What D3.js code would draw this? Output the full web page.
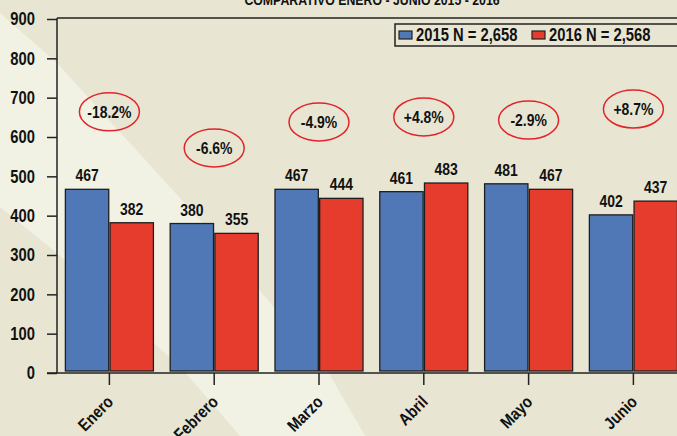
<!DOCTYPE html>
<html>
<head>
<meta charset="utf-8">
<script src="https://cdn.jsdelivr.net/npm/d3@7"></script>
<style>
  html, body { margin: 0; padding: 0; background: #e8e6d3; }
  svg { display: block; }
  text { font-family: "Liberation Sans Narrow", "Arial Narrow", "Liberation Sans", Arial, sans-serif; font-weight: bold; fill: #111; }
</style>
</head>
<body>
<div id="chart"></div>
<script>
// data
const months = ["Enero", "Febrero", "Marzo", "Abril", "Mayo", "Junio"];
const years = ["2015", "2016"];
const values2015 = [467, 380, 467, 461, 481, 402];
const values2016 = [382, 355, 444, 483, 467, 437];
const pctLabels = ["-18.2%", "-6.6%", "-4.9%", "+4.8%", "-2.9%", "+8.7%"];
const pctLevel = [664, 572, 638, 651, 643, 671]; // where the circled labels sit, in axis units
const legendLabels = ["2015 N = 2,658", "2016 N = 2,568"];
const yTicks = [0, 100, 200, 300, 400, 500, 600, 700, 800, 900];
const title = "COMPARATIVO ENERO - JUNIO 2015 - 2016";

const W = 677, H = 436;
const colors = {"2015": "#5078b6", "2016": "#e63c2d"};
const fontStack = "'Liberation Sans Narrow', 'Arial Narrow', 'Liberation Sans', Arial, sans-serif";

// no narrow face installed, so squeeze the glyphs a bit
function condense(sel, k = 0.82) {
    sel.each(function() {
        const len = this.getComputedTextLength();
        d3.select(this).attr("textLength", len * k).attr("lengthAdjust", "spacingAndGlyphs");
    });
}

const svg = d3.select("#chart").append("svg")
    .attr("width", W)
    .attr("height", H);

// decorative background band
svg.append("rect").attr("width", W).attr("height", H).attr("fill", "#e8e6d3");
svg.append("polygon")
    .attr("points", "0,13 57,63 200,220 327,370 365,436 240,436 183,370 57,253 0,207")
    .attr("fill", "#f1f1e4");

const margin = {top: 19, left: 57, bottom: 63};
const step = 104.8;

const x0 = d3.scaleBand()
    .domain(months)
    .range([margin.left, margin.left + step * months.length])
    .paddingInner(0.16)
    .paddingOuter(0.08);

const x1 = d3.scaleBand()
    .domain(years)
    .range([0, x0.bandwidth()])
    .paddingInner(0.03);

const y = d3.scaleLinear()
    .domain([0, 900])
    .range([H - margin.bottom, margin.top]);

const rows = months.map((m, i) => ({
    month: m,
    vals: [{year: "2015", v: values2015[i]}, {year: "2016", v: values2016[i]}]
}));

// frame
svg.append("line")
    .attr("x1", margin.left).attr("x2", W)
    .attr("y1", y(900) - 1).attr("y2", y(900) - 1)
    .attr("stroke", "#222").attr("stroke-width", 1.5);

// bars
const groups = svg.append("g").selectAll("g")
    .data(rows)
    .join("g")
    .attr("transform", d => `translate(${x0(d.month)},0)`);

groups.selectAll("rect")
    .data(d => d.vals)
    .join("rect")
    .attr("x", d => x1(d.year))
    .attr("y", d => y(d.v))
    .attr("width", x1.bandwidth())
    .attr("height", d => y(0) - y(d.v) - 2)
    .attr("fill", d => colors[d.year])
    .attr("stroke", "#1e1e1e")
    .attr("stroke-width", 1.3);

groups.selectAll("text.val")
    .data(d => d.vals)
    .join("text")
    .attr("class", "val")
    .attr("x", d => x1(d.year) + x1.bandwidth() / 2)
    .attr("y", d => y(d.v) - 8)
    .attr("text-anchor", "middle")
    .attr("font-size", 17)
    .text(d => d.v)
    .call(condense);

// circled percentage changes
const ann = svg.append("g").selectAll("g")
    .data(months)
    .join("g")
    .attr("transform", (m, i) => `translate(${x0(m) + x0.bandwidth() / 2},${y(pctLevel[i])})`);

ann.append("ellipse")
    .attr("rx", 30).attr("ry", 19)
    .attr("fill", "none")
    .attr("stroke", "#e2232a")
    .attr("stroke-width", 1.5);

ann.append("text")
    .attr("text-anchor", "middle")
    .attr("dy", "0.35em")
    .attr("font-size", 17)
    .text((m, i) => pctLabels[i])
    .call(condense);

// y axis
const yAxis = svg.append("g")
    .attr("transform", `translate(${margin.left},0)`)
    .call(d3.axisLeft(y).tickValues(yTicks).tickSize(10).tickPadding(12));
yAxis.select(".domain").attr("d", `M0,${y(900) - 1}V${y(0)}`).attr("stroke", "#222").attr("stroke-width", 1.5);
yAxis.selectAll(".tick line").attr("stroke", "#222").attr("stroke-width", 1.5);
yAxis.selectAll(".tick text").attr("font-size", 18).attr("fill", "#111")
    .style("font-family", fontStack)
    .call(condense);

// x axis
const xAxis = svg.append("g")
    .attr("transform", `translate(0,${y(0)})`)
    .call(d3.axisBottom(x0).tickSize(12).tickSizeOuter(0));
xAxis.select(".domain").attr("d", `M${margin.left - 10},0H${W}`).attr("stroke", "#222").attr("stroke-width", 1.5);
xAxis.selectAll(".tick line").attr("stroke", "#222").attr("stroke-width", 1.5);
xAxis.selectAll(".tick text")
    .attr("font-size", 17).attr("fill", "#111")
    .style("font-family", fontStack)
    .attr("text-anchor", "end")
    .attr("transform", "translate(5,30) rotate(-45)")
    .attr("y", 0).attr("dy", 0)
    .call(condense, 0.86);

// title (cut at the top edge, as in the original)
svg.append("text")
    .attr("x", 372).attr("y", 5)
    .attr("text-anchor", "middle")
    .attr("font-size", 15)
    .text(title)
    .call(condense);

// legend
const legend = svg.append("g").attr("transform", "translate(395,24)");
legend.append("rect")
    .attr("width", 320).attr("height", 22)
    .attr("fill", "none").attr("stroke", "#222").attr("stroke-width", 1.5);
const li = legend.selectAll("g")
    .data(years)
    .join("g")
    .attr("transform", (d, i) => `translate(${4 + i * 133},0)`);
li.append("rect")
    .attr("y", 7).attr("width", 13).attr("height", 8)
    .attr("fill", d => colors[d]).attr("stroke", "#222").attr("stroke-width", 1.2);
li.append("text")
    .attr("x", 17).attr("y", 11).attr("dy", "0.35em")
    .attr("font-size", 18)
    .text((d, i) => legendLabels[i])
    .call(condense);
</script>
</body>
</html>
